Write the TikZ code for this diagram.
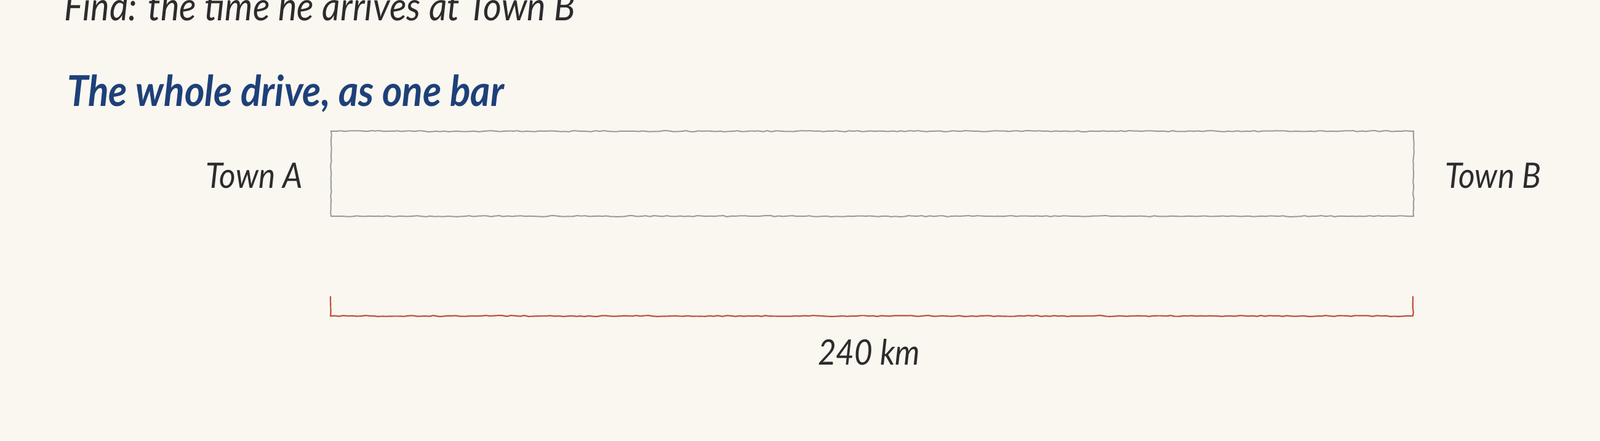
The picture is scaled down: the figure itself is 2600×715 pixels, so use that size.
\documentclass[tikz,border=0pt]{standalone}
\usepackage{fontspec}
\setmainfont{Lato}
\newfontfamily\hand[FakeStretch=0.9]{Lato Italic}
\newfontfamily\handbold[FakeStretch=0.9]{Lato Bold Italic}
\usetikzlibrary{decorations.pathmorphing}
\definecolor{bg}{HTML}{F9F7F0}
\definecolor{ink}{HTML}{2E2B2E}
\definecolor{headblue}{HTML}{1E4079}
\definecolor{bargray}{HTML}{9A9A9A}
\definecolor{bracketred}{HTML}{C0503C}
\tikzset{
  plaintext/.style={text=ink, inner sep=0pt, font=\hand\fontsize{64}{68}\selectfont},
  headtext/.style={text=headblue, inner sep=0pt, font=\handbold\fontsize{69}{72}\selectfont},
  townlabel/.style={text=ink, inner sep=0pt, font=\hand\fontsize{57}{60}\selectfont},
  barbox/.style={draw=bargray, line width=2pt, fill=bg, minimum width=1759pt, minimum height=138pt, inner sep=0pt,
    decorate, decoration={random steps, segment length=7pt, amplitude=0.9pt}},
  bracketline/.style={draw=bracketred, line width=2.2pt, line join=round,
    decorate, decoration={random steps, segment length=7pt, amplitude=0.8pt}},
}
\begin{document}
\begin{tikzpicture}[x=1pt,y=-1pt]
\fill[bg] (0,0) rectangle (2600,715);
\useasboundingbox (0,0) rectangle (2600,715);
\node[plaintext, anchor=base west] (find) at (104,33) {Find: the time he arrives at Town B};
\node[headtext, anchor=base west] (head) at (109,172) {The whole drive, as one bar};
\node[barbox, anchor=north west] (bar) at (537,212) {};
\node[townlabel, anchor=base east] (townA) at (492,305) {Town A};
\node[townlabel, anchor=base west] (townB) at (2348,305) {Town B};
\coordinate (bl) at (537,481);
\coordinate (br) at (2296,481);
\draw[bracketline] (bl) -- ++(0,32) -| (br);
\node[townlabel, anchor=base] (dist) at (1412,592) {240 km};
\end{tikzpicture}
\end{document}
